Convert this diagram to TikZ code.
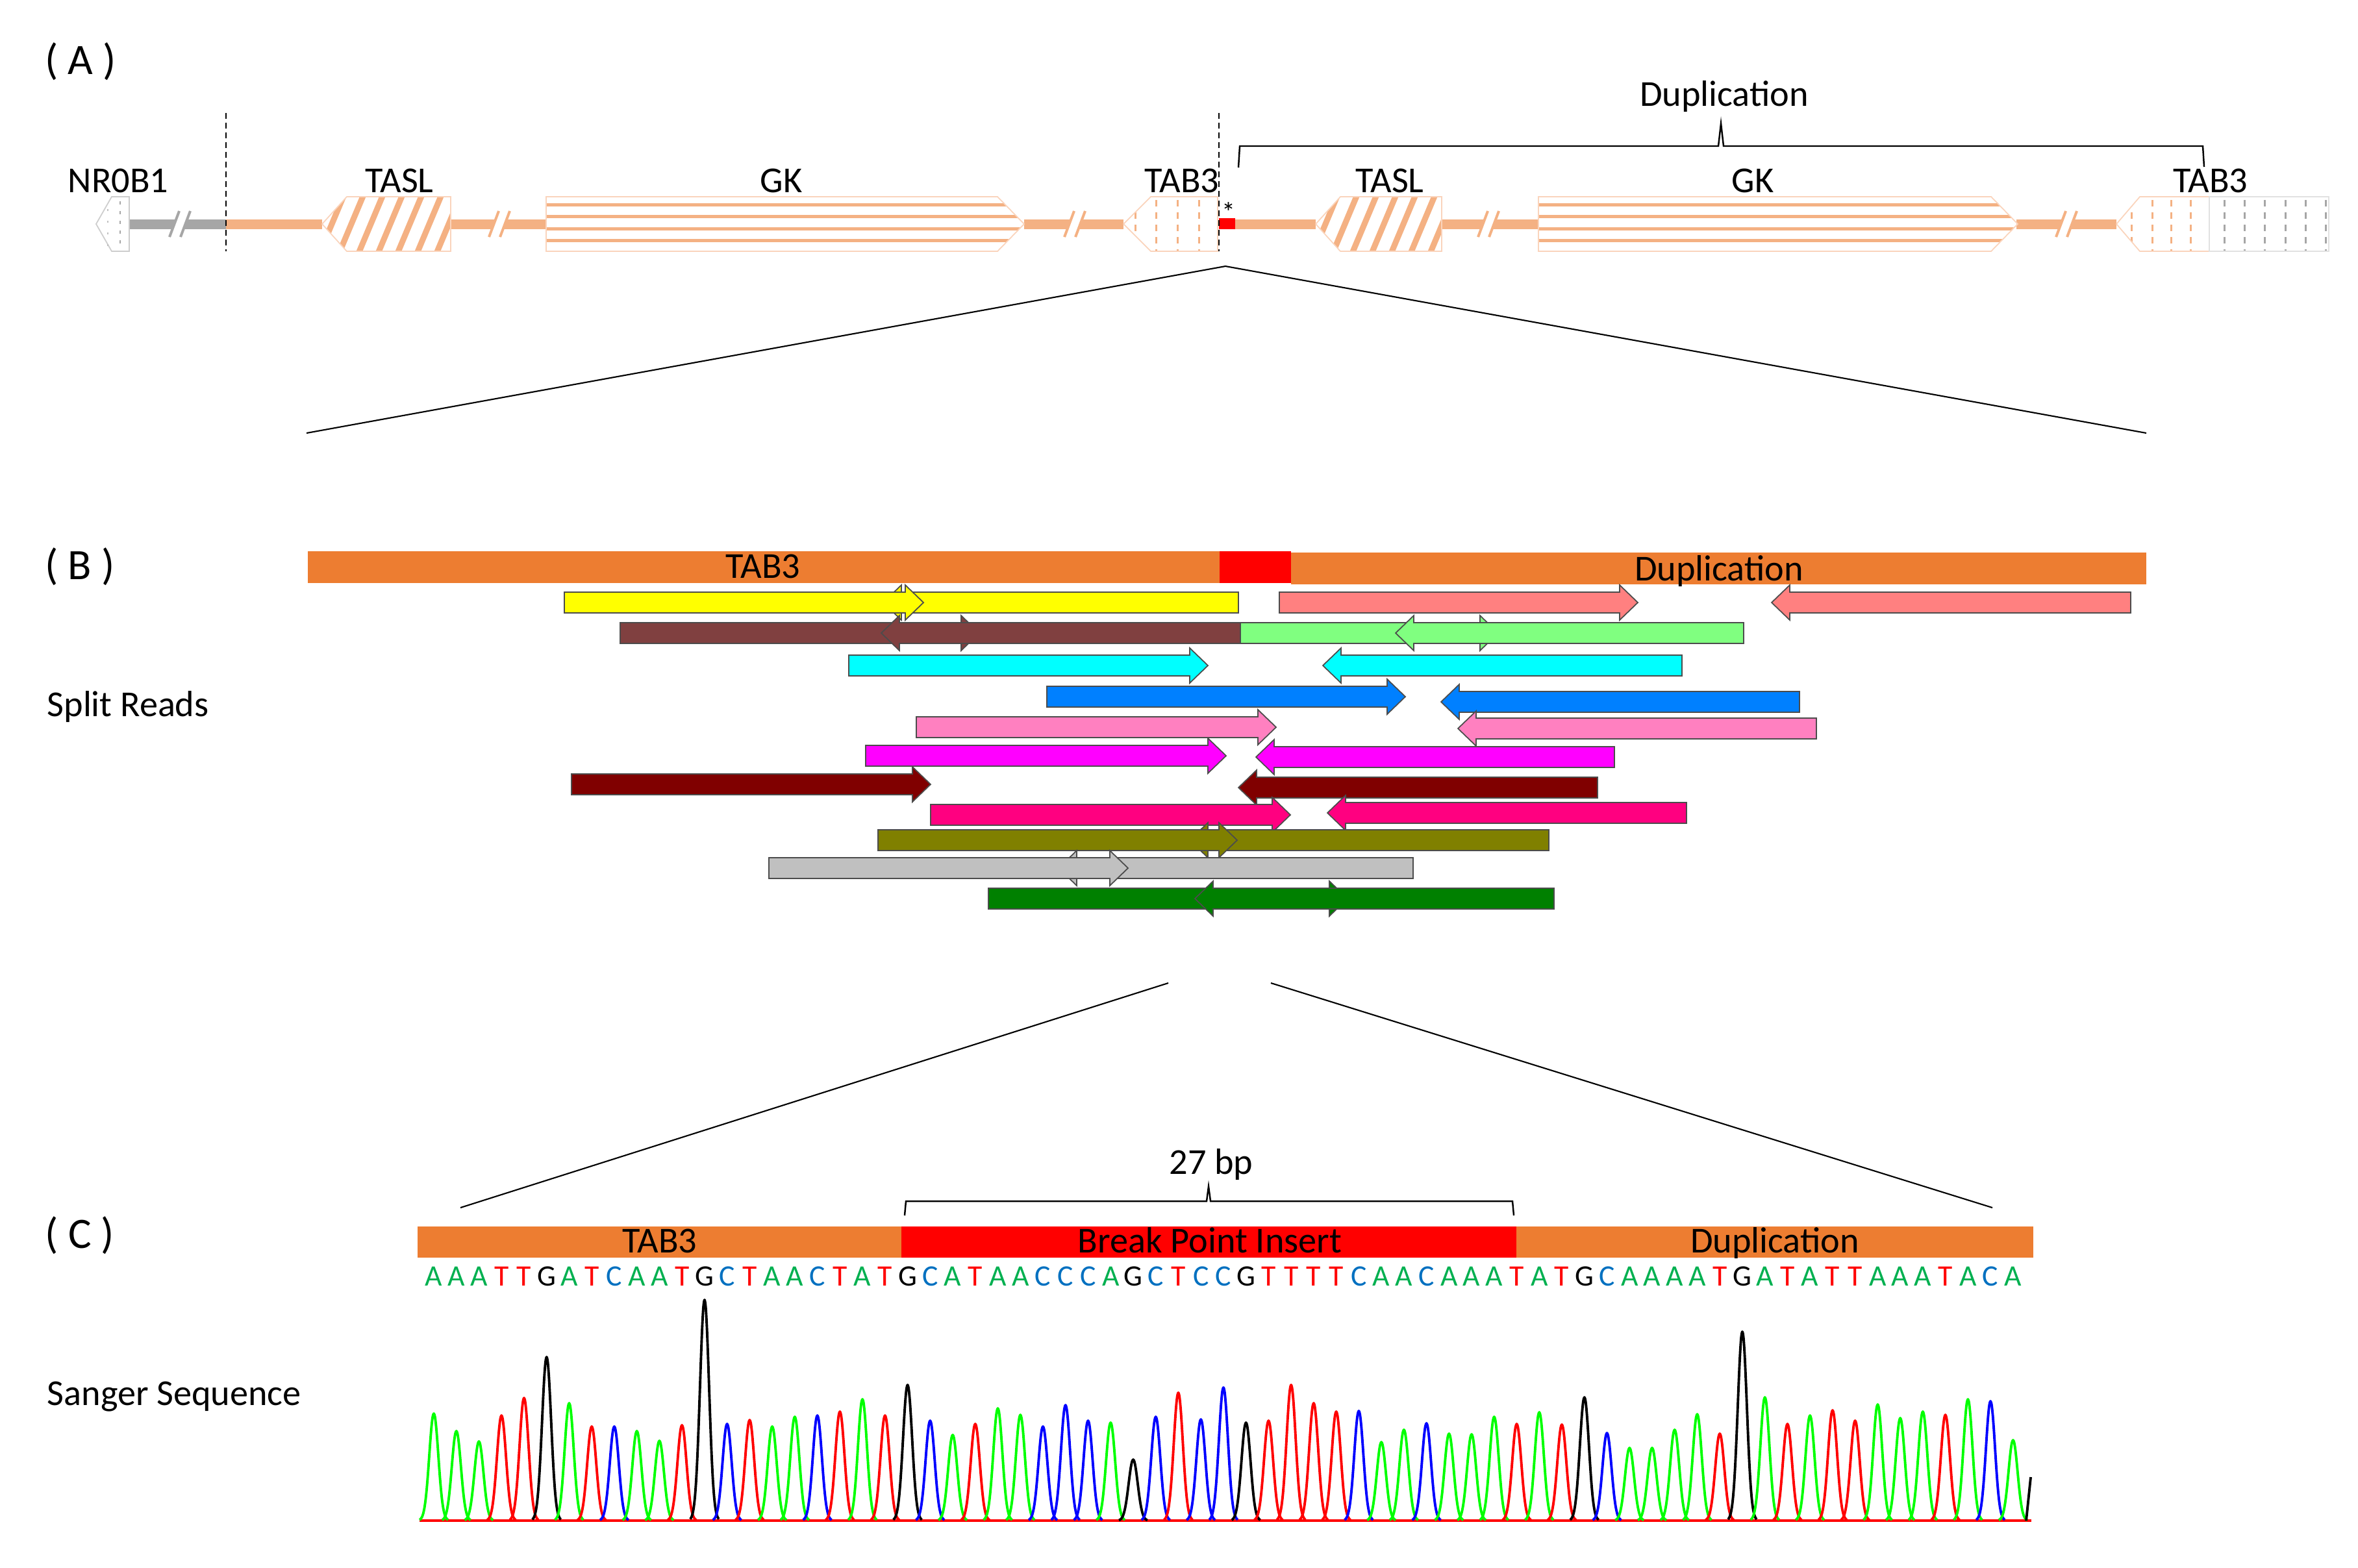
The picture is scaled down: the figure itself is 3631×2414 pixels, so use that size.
\documentclass[tikz,border=0pt]{standalone}
\usepackage{fontspec}
\setmainfont{Carlito}
\usetikzlibrary{calc}

\definecolor{geneorange}{RGB}{244,177,131}
\definecolor{geneedge}{RGB}{250,212,188}
\definecolor{nrgray}{RGB}{166,166,166}
\definecolor{nredge}{RGB}{205,205,205}
\definecolor{barorange}{RGB}{237,125,49}
\definecolor{readyellow}{RGB}{255,255,0}
\definecolor{readsalmon}{RGB}{255,128,128}
\definecolor{readbrown}{RGB}{128,64,64}
\definecolor{readlime}{RGB}{128,255,128}
\definecolor{readcyan}{RGB}{0,255,255}
\definecolor{readblue}{RGB}{0,128,255}
\definecolor{readpink}{RGB}{255,128,192}
\definecolor{readmagenta}{RGB}{255,0,255}
\definecolor{readmaroon}{RGB}{128,0,0}
\definecolor{readrose}{RGB}{255,0,128}
\definecolor{readolive}{RGB}{128,128,0}
\definecolor{readsilver}{RGB}{192,192,192}
\definecolor{readgreen}{RGB}{0,128,0}
\definecolor{traceA}{RGB}{0,255,0}
\definecolor{traceT}{RGB}{255,0,0}
\definecolor{traceC}{RGB}{0,0,255}
\definecolor{traceG}{RGB}{0,0,0}
\definecolor{baseA}{RGB}{0,176,80}
\definecolor{baseT}{RGB}{255,0,0}
\definecolor{baseC}{RGB}{0,112,192}
\definecolor{baseG}{RGB}{0,0,0}

\begin{document}
\begin{tikzpicture}[x=0.01cm, y=-0.01cm,
    panel/.style={font=\fontsize{19}{23}\selectfont, inner sep=0pt},
    txt/.style={font=\fontsize{16}{19}\selectfont, inner sep=0pt},
    bartxt/.style={font=\fontsize{16}{19}\selectfont, inner sep=0pt, anchor=base},
    basefont/.style={font=\fontsize{13}{15}\selectfont, inner sep=0pt},
    track/.style={draw=geneorange, line width=0.15cm},
    gene/.style={draw=geneedge, line width=0.5pt},
    cut/.style={line width=0.04cm},
    guide/.style={line width=0.6pt, dash pattern=on 0.09cm off 0.06cm},
    zoomline/.style={line width=0.6pt},
    bracket/.style={line width=0.7pt},
    read/.style={draw=black!70, line width=0.5pt},
    trace/.style={line width=1.1pt, line join=round}
]
    \useasboundingbox (0,0) rectangle (3631,2414);

    % Panel labels
    \node[panel] (lblA) at (124,95) {( A )};
    \node[panel] (lblB) at (123,873) {( B )};
    \node[panel] (lblC) at (123,1903) {( C )};
    \node[txt, anchor=west] (split) at (72,1088) {Split Reads};
    \node[txt, anchor=west] (sanger) at (72,2151) {Sanger Sequence};

    % Tracks between genes
    \draw[track, draw=nrgray] (199,345) -- (348,345);
    \draw[track] (348,345) -- (496,345) (694,345) -- (841,345) (1577,345) -- (1730,345)
        (1902,345) -- (2026,345) (2220,345) -- (2369,345) (3105,345) -- (3259,345);
    \fill[red] (1877,336) rectangle (1902,353);

    % Breaks
    \foreach \xb/\col in {277/nrgray, 769/geneorange, 1655/geneorange, 2292/geneorange, 3182/geneorange} {
        \fill[white] (\xb-1,325) -- (\xb+16,325) -- (\xb+1,365) -- (\xb-16,365) -- cycle;
        \draw[cut, \col] (\xb-1,325) -- (\xb-16,365) (\xb+16,325) -- (\xb+1,365);
    }

    % NR0B1
    \draw[gene, draw=nredge, fill=white] (148,345) -- (172,303) -- (199,303) -- (199,387) -- (172,387) -- cycle;
    \draw[nrgray, line width=0.5pt, dash pattern=on 0.05cm off 0.1cm] (185,310) -- (185,385);
    \draw[nrgray!70, line width=0.5pt, dash pattern=on 0.03cm off 0.15cm] (166,322) -- (166,380);

    % TASL
    \foreach \dx/\w in {0/160, 1530/156} {
        \begin{scope}
            \clip (496+\dx,345) -- (534+\dx,303) -- (534+\dx+\w,303) -- (534+\dx+\w,387) -- (534+\dx,387) -- cycle;
            \foreach \s in {430,460,...,720}
                \draw[geneorange, line width=0.09cm] (\s+\dx,395) -- (\s+\dx+42,295);
        \end{scope}
        \draw[gene] (496+\dx,345) -- (534+\dx,303) -- (534+\dx+\w,303) -- (534+\dx+\w,387) -- (534+\dx,387) -- cycle;
    }

    % GK
    \foreach \xa/\xe in {841/1536, 2369/3066} {
        \begin{scope}
            \clip (\xa,303) -- (\xe,303) -- (\xe+41,345) -- (\xe,387) -- (\xa,387) -- cycle;
            \foreach \yy in {315,333,352,370}
                \draw[geneorange, line width=0.05cm] (\xa,\yy) -- (\xe+45,\yy);
        \end{scope}
        \draw[gene] (\xa,303) -- (\xe,303) -- (\xe+41,345) -- (\xe,387) -- (\xa,387) -- cycle;
    }

    % TAB3
    \begin{scope}
        \clip (1730,345) -- (1772,303) -- (1875,303) -- (1875,387) -- (1772,387) -- cycle;
        \foreach \xx in {1748,1780,1813,1846}
            \draw[geneorange, line width=0.03cm, dash pattern=on 0.1cm off 0.09cm] (\xx,308) -- (\xx,390);
    \end{scope}
    \draw[gene] (1730,345) -- (1772,303) -- (1875,303) -- (1875,387) -- (1772,387) -- cycle;
    \begin{scope}
        \clip (3259,345) -- (3295,303) -- (3402,303) -- (3402,387) -- (3295,387) -- cycle;
        \foreach \xx in {3282,3314,3343,3373}
            \draw[geneorange, line width=0.03cm, dash pattern=on 0.1cm off 0.09cm] (\xx,308) -- (\xx,390);
    \end{scope}
    \draw[gene] (3259,345) -- (3295,303) -- (3402,303) -- (3402,387) -- (3295,387) -- cycle;
    \foreach \xx in {3425,3456,3487,3519,3550,3581}
        \draw[nrgray, line width=0.03cm, dash pattern=on 0.1cm off 0.09cm] (\xx,308) -- (\xx,387);
    \draw[nredge!60, line width=0.5pt] (3402,303) rectangle (3586,387);

    % Gene names
    \node[txt] (nrob) at (182,278) {NR0B1};
    \node[txt] (tasl1) at (615,278) {TASL};
    \node[txt] (gk1) at (1203,278) {GK};
    \node[txt] (tab1) at (1820,278) {TAB3};
    \node[txt] (tasl2) at (2140,278) {TASL};
    \node[txt] (gk2) at (2699,278) {GK};
    \node[txt] (tab2) at (3404,278) {TAB3};
    \node[font=\fontsize{12}{14}\selectfont, inner sep=0pt] (star) at (1892,327) {*};

    % Break point guides
    \draw[guide] (348,174) -- (348,387);
    \draw[guide] (1877,174) -- (1877,387);

    % Duplication bracket
    \node[txt] (dupA) at (2655,148) {Duplication};
    \draw[bracket] (1907,258) -- (1909,225) -- (2646,225) -- (2650,190) -- (2654,225) -- (3392,225) -- (3394,257);

    % Zoom to panel B
    \coordinate (zA) at (1887,410);
    \coordinate (zAl) at (472,667);
    \coordinate (zAr) at (3305,667);
    \draw[zoomline] (zAl) -- (zA) -- (zAr);

    % Panel B bar
    \fill[barorange] (474,849) rectangle (1878,898);
    \fill[red] (1878,849) rectangle (1988,898);
    \fill[barorange] (1988,851) rectangle (3305,900);
    \node[bartxt] (tabB) at (1175,890) {TAB3};
    \node[bartxt] (dupB) at (2647,894) {Duplication};

    % Split reads
    \foreach \col/\xa/\xb/\yc in {
        readyellow/1907/1360/928, readyellow/869/1422/928,
        readsalmon/1970/2522/928, readsalmon/3281/2728/928,
        readlime/1754/2307/975, readlime/2685/2149/975,
        readbrown/955/1508/975, readbrown/1910/1357/975,
        readcyan/1307/1860/1025, readcyan/2590/2037/1025,
        readblue/1612/2164/1073, readblue/2771/2219/1081,
        readpink/1411/1965/1120, readpink/2797/2245/1122,
        readmagenta/1333/1888/1164, readmagenta/2486/1934/1166,
        readmaroon/880/1433/1208, readmaroon/2460/1907/1213,
        readrose/1433/1987/1255, readrose/2597/2044/1252,
        readolive/2385/1832/1294, readolive/1352/1905/1294,
        readsilver/2176/1630/1337, readsilver/1184/1737/1337,
        readgreen/1522/2075/1384, readgreen/2393/1840/1384} {
        \pgfmathsetmacro\hb{\xb>\xa ? \xb-28 : \xb+28}
        \draw[read, fill=\col] (\xa,\yc-16) -- (\hb,\yc-16) -- (\hb,\yc-27) -- (\xb,\yc)
            -- (\hb,\yc+27) -- (\hb,\yc+16) -- (\xa,\yc+16) -- cycle;
    }

    % Zoom to panel C
    \coordinate (zBl) at (1799,1514);
    \coordinate (zBr) at (1957,1514);
    \coordinate (zCl) at (709,1860);
    \coordinate (zCr) at (3068,1860);
    \draw[zoomline] (zBl) -- (zCl);
    \draw[zoomline] (zBr) -- (zCr);

    % Panel C bar
    \node[txt] (bp) at (1865,1793) {27 bp};
    \draw[bracket] (1393,1872) -- (1395,1850) -- (1858,1850) -- (1861,1827) -- (1864,1850) -- (2329,1850) -- (2331,1872);
    \fill[barorange] (643,1889) rectangle (1388,1937);
    \fill[red] (1388,1889) rectangle (2335,1937);
    \fill[barorange] (2335,1889) rectangle (3131,1937);
    \node[bartxt] (tabC) at (1016,1929) {TAB3};
    \node[bartxt] (ins) at (1863,1929) {Break Point Insert};
    \node[bartxt] (dupC) at (2733,1929) {Duplication};

    % Chromatogram and bases
    \draw[traceT, line width=1.1pt] (646,2342) -- (3128,2342);
    \foreach \b/\h [count=\i from 0] in {A/165,A/138,A/122,T/162,T/189,G/252,A/181,T/145,C/145,A/138,
        A/123,T/147,G/340,C/149,T/155,A/145,A/160,C/162,T/168,A/187,T/162,G/209,C/154,A/132,T/149,
        A/173,A/163,C/145,C/178,C/154,A/151,G/94,C/160,T/197,C/156,C/205,G/151,T/154,T/209,T/181,
        T/168,C/169,A/121,A/140,C/150,A/134,A/133,A/160,T/149,A/167,T/148,G/190,C/135,A/112,A/112,
        A/140,A/164,T/134,G/291,A/190,T/149,A/162,T/170,T/154,A/179,A/158,A/168,T/163,A/187,C/184,A/124} {
        \pgfmathsetmacro\xc{668+34.74*\i}
        \pgfmathsetmacro\xl{\xc-22}
        \pgfmathsetmacro\xr{\xc+22}
        \draw[trace, trace\b] plot[domain=\xl:\xr, samples=25, smooth] (\x, {2342-\h*exp(0-(\x-\xc)*(\x-\xc)/98)});
        \node[basefont, text=base\b] (s\i) at (\xc,1966) {\b};
    }
    \draw[trace, traceG] (3120,2342) -- (3127,2275);

\end{tikzpicture}
\end{document}
